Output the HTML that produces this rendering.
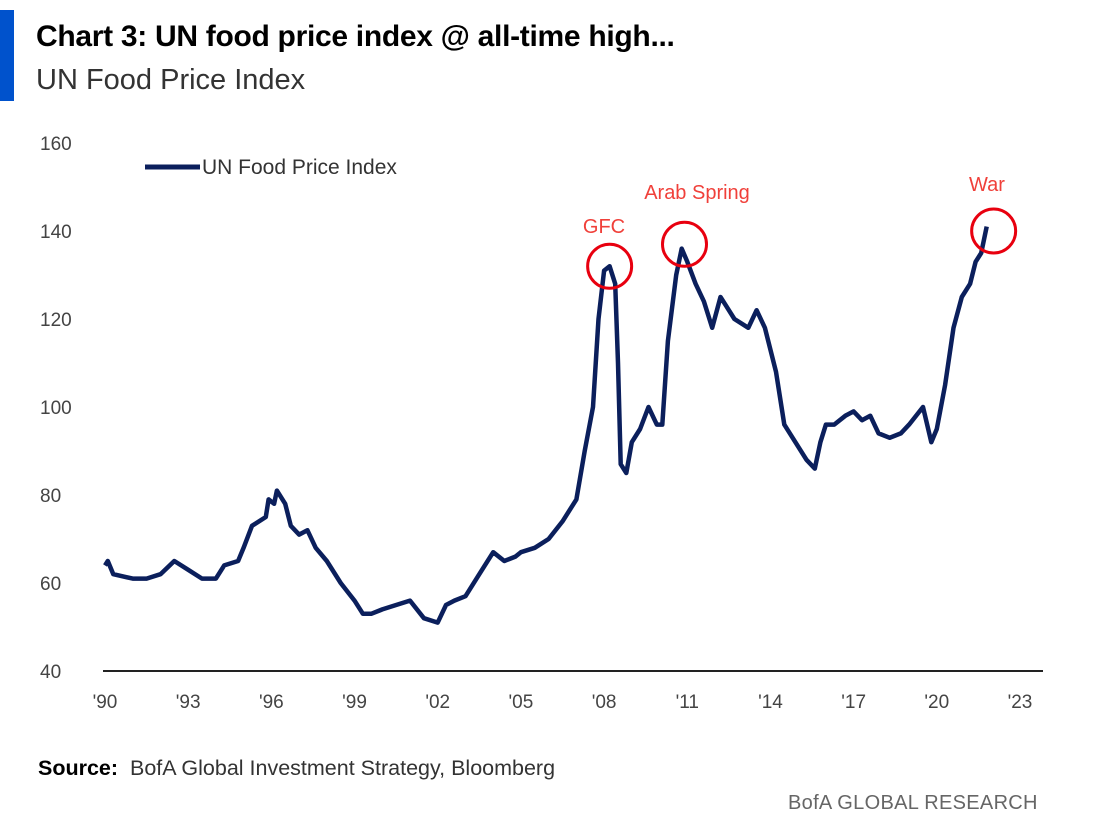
<!DOCTYPE html>
<html><head><meta charset="utf-8"><style>
body{margin:0;width:1104px;height:828px;background:#fff;overflow:hidden;font-family:"Liberation Sans",sans-serif;position:relative}
.t{position:absolute;white-space:nowrap}
</style></head><body>
<div style="position:absolute;left:0;top:10px;width:14px;height:91px;background:#0052cc"></div>
<div class="t" style="left:36px;top:20px;font-size:30px;font-weight:bold;color:#000;letter-spacing:-0.3px">Chart 3: UN food price index @ all-time high...</div>
<div class="t" style="left:36px;top:64px;font-size:29px;color:#333">UN Food Price Index</div>
<svg id="chart" width="1104" height="828" style="position:absolute;left:0;top:0"></svg>
<div class="t" style="left:38px;top:756px;font-size:21.5px;color:#333"><b style="color:#000">Source:</b>&nbsp; BofA Global Investment Strategy, Bloomberg</div>
<div class="t" style="left:788px;top:792px;font-size:20px;color:#666;letter-spacing:0.3px">BofA GLOBAL RESEARCH</div>
<script>
const years=[1990.0,1990.1,1990.3,1991,1991.5,1992,1992.5,1993,1993.5,1994,1994.3,1994.8,1995,1995.3,1995.8,1995.9,1996.1,1996.2,1996.5,1996.7,1997,1997.3,1997.6,1998,1998.5,1999,1999.3,1999.6,2000,2000.5,2001,2001.5,2002,2002.3,2002.6,2003,2003.5,2004,2004.4,2004.8,2005,2005.5,2006,2006.5,2007,2007.3,2007.6,2007.8,2008.0,2008.2,2008.4,2008.5,2008.6,2008.8,2009.0,2009.3,2009.6,2009.9,2010.1,2010.3,2010.6,2010.8,2011.0,2011.3,2011.6,2011.9,2012.2,2012.4,2012.7,2013.2,2013.5,2013.8,2014.2,2014.5,2014.9,2015.3,2015.6,2015.8,2016.0,2016.3,2016.7,2017,2017.3,2017.6,2017.9,2018.3,2018.7,2019,2019.5,2019.8,2020.0,2020.3,2020.6,2020.9,2021.2,2021.4,2021.6,2021.8,2022.05];
const values=[64,65,62,61,61,62,65,63,61,61,64,65,68,73,75,79,78,81,78,73,71,72,68,65,60,56,53,53,54,55,56,52,51,55,56,57,62,67,65,66,67,68,70,74,79,90,100,120,131,132,128,110,87,85,92,95,100,96,96,115,130,136,133,128,124,118,125,123,120,118,122,118,108,96,92,88,86,92,96,96,98,99,97,98,94,93,94,96,100,92,95,105,118,125,128,133,135,141];
const yTicks=[40,60,80,100,120,140,160];
const xTicks=[1990,1993,1996,1999,2002,2005,2008,2011,2014,2017,2020,2023];
const xLabels=["'90","'93","'96","'99","'02","'05","'08","'11","'14","'17","'20","'23"];
const notes=[{label:"GFC",year:2008.2,value:132,tx:604,ty:233},{label:"Arab Spring",year:2010.9,value:137,tx:697,ty:199},{label:"War",year:2022.05,value:140,tx:987,ty:191}];
const svg=document.getElementById('chart');const NS='http://www.w3.org/2000/svg';
const xs=y=>105+(y-1990)*(915/33);const ys=v=>671-(v-40)*4.4;
function mk(t,a){const e=document.createElementNS(NS,t);for(const k in a)e.setAttribute(k,a[k]);svg.appendChild(e);return e;}
yTicks.forEach(v=>{const e=mk('text',{x:40,y:ys(v)+7,'font-size':19,fill:'#444'});e.textContent=v;

});
xTicks.forEach((y,i)=>{const e=mk('text',{x:xs(y),y:708,'font-size':19,fill:'#444','text-anchor':'middle'});e.textContent=xLabels[i];

});
const ax=mk('line',{x1:103,x2:1043,y1:671,y2:671,stroke:'#222','stroke-width':2});


const n=Math.min(years.length,values.length);
const p=mk('path',{d:years.slice(0,n).map((y,i)=>(i?'L':'M')+xs(y).toFixed(1)+','+ys(values[i]).toFixed(1)).join(''),fill:'none',stroke:'#0b1f5c','stroke-width':4.5,'stroke-linejoin':'round'});


const ll=mk('line',{x1:145,x2:200,y1:167,y2:167,stroke:'#0b1f5c','stroke-width':5});


const lt=mk('text',{x:202,y:174,'font-size':21,fill:'#333'});lt.textContent='UN Food Price Index';


notes.forEach(n=>{const cx=xs(n.year),cy=ys(n.value);
const c=mk('circle',{cx:cx,cy:cy,r:22,fill:'none',stroke:'#e8000f','stroke-width':3});


const t=mk('text',{x:n.tx,y:n.ty,'font-size':20,fill:'#f0403a','text-anchor':'middle'});t.textContent=n.label;

});
</script>
</body></html>
